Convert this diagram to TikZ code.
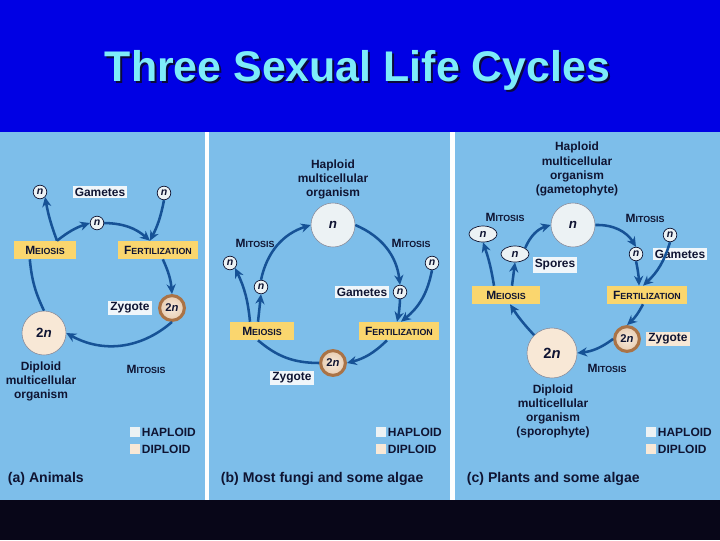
\documentclass[tikz,border=0pt]{standalone}
\usepackage{fontspec}
\setmainfont{Liberation Sans}
\usetikzlibrary{positioning,arrows.meta,shapes.geometric}
\definecolor{titlebg}{RGB}{0,0,228}
\definecolor{titletxt}{RGB}{125,236,250}
\definecolor{shadow}{RGB}{10,10,60}
\definecolor{panel}{RGB}{125,190,234}
\definecolor{footer}{RGB}{8,6,24}
\definecolor{ink}{RGB}{15,20,50}
\definecolor{arr}{RGB}{22,82,150}
\definecolor{ybox}{RGB}{250,214,110}
\definecolor{wbox}{RGB}{240,246,250}
\definecolor{hap}{RGB}{236,242,244}
\definecolor{dip}{RGB}{248,232,214}
\definecolor{zygin}{RGB}{242,220,196}
\definecolor{zygout}{RGB}{170,115,70}
\newcommand{\smcap}[2]{#1{\fontsize{6.3}{7}\selectfont #2}}

\begin{document}
\begin{tikzpicture}[
  x=0.025cm, y=0.025cm,
  every node/.style={font=\fontsize{8.5}{10}\selectfont\bfseries,text=ink},
  txt/.style={align=center,inner sep=1pt},
  hapc/.style={circle,fill=hap,draw=ink!50,line width=0.4pt,minimum size=1.1cm,inner sep=0pt,
    font=\fontsize{9.5}{10}\selectfont\bfseries},
  dipc/.style={hapc,fill=dip},
  nsm/.style={circle,fill=hap,draw=ink,line width=0.5pt,minimum size=0.34cm,inner sep=0pt,
    font=\fontsize{7.5}{8}\selectfont\bfseries},
  nell/.style={ellipse,fill=hap,draw=ink,line width=0.5pt,minimum width=0.7cm,minimum height=0.4cm,
    inner sep=0pt,font=\fontsize{8}{8}\selectfont\bfseries},
  zyg/.style={circle,draw=zygout,line width=2.2pt,inner color=white!40!zygin,outer color=zygin!85!zygout,
    minimum size=0.62cm,inner sep=0pt,font=\fontsize{8}{8}\selectfont\bfseries},
  yb/.style={fill=ybox,minimum height=0.45cm,inner sep=3pt},
  wb/.style={fill=wbox,inner sep=1.5pt},
  key/.style={minimum size=0.25cm,inner sep=0pt},
  sig/.style={-{Stealth[length=7pt,width=6.5pt]},line width=1.8pt,draw=arr},
  lnk/.style={line width=1.8pt,draw=arr},
]
\useasboundingbox (0,0) rectangle (720,-540);
% background bands
\fill[titlebg] (0,0) rectangle (720,-132);
\fill[panel] (0,-132) rectangle (720,-500);
\fill[footer] (0,-500) rectangle (720,-540);
\fill[white] (205,-132) rectangle (209,-500);
\fill[white] (450,-132) rectangle (455,-500);
% title
\node[font=\fontsize{30.5}{32}\selectfont\bfseries,text=shadow] (titleshadow) at (359.5,-72) {Three Sexual Life Cycles};
\node[font=\fontsize{30.5}{32}\selectfont\bfseries,text=titletxt] (title) at (357.5,-70) {Three Sexual Life Cycles};

% (a) animals
\node[nsm] (na1) at (40,-192) {\textit{n}};
\node[nsm] (na2) at (97,-223) {\textit{n}};
\node[nsm] (na3) at (164,-193) {\textit{n}};
\node[wb] (gam_a) at (100,-192) {Gametes};
\node[yb,minimum width=1.55cm] (mei_a) at (45,-250) {\smcap{M}{EIOSIS}};
\node[yb,minimum width=2cm] (fer_a) at (158,-250) {\smcap{F}{ERTILIZATION}};
\node[zyg] (zyg_a) at (172,-308) {2\textit{n}};
\node[wb] (zlab_a) at (130,-308) {Zygote};
\node[dipc] (dip_a) at (44,-333) {2\textit{n}};
\node[txt] (diptxt_a) at (41,-381) {Diploid\\multicellular\\organism};
\node[txt] (mit_a) at (146,-369) {\smcap{M}{ITOSIS}};
\draw[lnk] (dip_a.north) to[bend left=10] ([xshift=-0.38cm]mei_a.south);
\draw[sig] ([xshift=0.3cm]mei_a.north) to[bend left=5] (na1.south east);
\draw[sig] ([xshift=0.3cm]mei_a.north) to[bend left=10] (na2.west);
\draw[sig] (na2.east) to[bend left=20] ([xshift=-0.2cm]fer_a.north);
\draw[sig] (na3.south) to[bend left=8] ([xshift=-0.2cm]fer_a.north);
\draw[sig] ([xshift=0.12cm]fer_a.south) to[bend left=10] (zyg_a.north);
\draw[sig] (zyg_a.south) to[bend left=35] (dip_a.east);
% legend (a)
\node[key,fill=hap] (kh_a) at (135,-432) {};
\node[key,fill=dip] (kd_a) at (135,-449) {};
\node[right=1pt of kh_a,inner sep=0pt] (lh_a) {HAPLOID};
\node[right=1pt of kd_a,inner sep=0pt] (ld_a) {DIPLOID};
\node[anchor=west,font=\fontsize{10}{12}\selectfont\bfseries] (cap_a) at (3,-479) {(a) Animals};

% (b) fungi
\node[txt] (haptxt_b) at (333,-179) {Haploid\\multicellular\\organism};
\node[hapc] (hap_b) at (333,-225) {\textit{n}};
\node[txt] (mitl_b) at (255,-243) {\smcap{M}{ITOSIS}};
\node[txt] (mitr_b) at (411,-243) {\smcap{M}{ITOSIS}};
\node[nsm] (nb1) at (230,-263) {\textit{n}};
\node[nsm] (nb2) at (261,-287) {\textit{n}};
\node[nsm] (nb3) at (400,-292) {\textit{n}};
\node[nsm] (nb4) at (432,-263) {\textit{n}};
\node[wb] (gam_b) at (362,-292) {Gametes};
\node[yb,minimum width=1.6cm] (mei_b) at (262,-331) {\smcap{M}{EIOSIS}};
\node[yb,minimum width=2cm] (fer_b) at (399,-331) {\smcap{F}{ERTILIZATION}};
\node[zyg] (zyg_b) at (333,-363) {2\textit{n}};
\node[wb] (zlab_b) at (292,-378) {Zygote};
\draw[sig] (hap_b.east) to[bend left=30] (nb3.north);
\draw[sig] (nb4.south) to[bend left=20] ([xshift=0.05cm]fer_b.north);
\draw[sig] (nb3.south) to[bend left=5] ([xshift=-0.05cm]fer_b.north);
\draw[sig] ([xshift=-0.3cm]fer_b.south) to[bend left=15] (zyg_b.east);
\draw[lnk] (zyg_b.west) to[bend left=20] ([xshift=-0.1cm]mei_b.south);
\draw[sig] ([xshift=-0.3cm]mei_b.north) to[bend right=10] (nb1.south east);
\draw[sig] ([xshift=-0.1cm]mei_b.north) to (nb2.south);
\draw[sig] (nb2.north) to[bend left=30] (hap_b.west);
% legend (b)
\node[key,fill=hap] (kh_b) at (381,-432) {};
\node[key,fill=dip] (kd_b) at (381,-449) {};
\node[right=1pt of kh_b,inner sep=0pt] (lh_b) {HAPLOID};
\node[right=1pt of kd_b,inner sep=0pt] (ld_b) {DIPLOID};
\node[anchor=west,font=\fontsize{10}{12}\selectfont\bfseries] (cap_b) at (216,-479) {(b) Most fungi and some algae};

% (c) plants
\node[txt] (haptxt_c) at (577,-169) {Haploid\\multicellular\\organism\\(gametophyte)};
\node[hapc] (hap_c) at (573,-225) {\textit{n}};
\node[txt] (mitl_c) at (505,-217) {\smcap{M}{ITOSIS}};
\node[txt] (mitr_c) at (645,-218) {\smcap{M}{ITOSIS}};
\node[nell] (ec1) at (483,-234) {\textit{n}};
\node[nell] (ec2) at (515,-254) {\textit{n}};
\node[wb] (spo_c) at (555,-265) {Spores};
\node[nsm] (nc1) at (636,-254) {\textit{n}};
\node[nsm] (nc2) at (670,-235) {\textit{n}};
\node[wb] (gam_c) at (680,-254) {Gametes};
\node[yb,minimum width=1.7cm] (mei_c) at (506,-295) {\smcap{M}{EIOSIS}};
\node[yb,minimum width=2cm] (fer_c) at (647,-295) {\smcap{F}{ERTILIZATION}};
\node[zyg] (zyg_c) at (627,-339) {2\textit{n}};
\node[wb,fill=dip] (zlab_c) at (668,-339) {Zygote};
\node[dipc,minimum size=1.25cm,font=\fontsize{10.5}{11}\selectfont\bfseries] (dip_c) at (552,-353) {2\textit{n}};
\node[txt] (mit_c) at (607,-368) {\smcap{M}{ITOSIS}};
\node[txt] (diptxt_c) at (553,-411) {Diploid\\multicellular\\organism\\(sporophyte)};
\draw[sig] (hap_c.east) to[bend left=30] (nc1.north);
\draw[sig] (nc2.south) to[bend left=15] ([xshift=-0.1cm]fer_c.north);
\draw[sig] (nc1.south) to[bend left=5] ([xshift=-0.2cm]fer_c.north);
\draw[sig] ([xshift=-0.1cm]fer_c.south) to[bend left=10] (zyg_c.north);
\draw[sig] (zyg_c.west) to[bend left=15] (dip_c.east);
\draw[sig] (dip_c.north west) to[bend left=5] ([xshift=0.1cm]mei_c.south);
\draw[sig] ([xshift=-0.3cm]mei_c.north) to[bend right=5] (ec1.south);
\draw[sig] ([xshift=0.15cm]mei_c.north) to (ec2.south);
\draw[sig] (ec2.north east) to[bend left=25] (hap_c.west);
% legend (c)
\node[key,fill=hap] (kh_c) at (651,-432) {};
\node[key,fill=dip] (kd_c) at (651,-449) {};
\node[right=1pt of kh_c,inner sep=0pt] (lh_c) {HAPLOID};
\node[right=1pt of kd_c,inner sep=0pt] (ld_c) {DIPLOID};
\node[anchor=west,font=\fontsize{10}{12}\selectfont\bfseries] (cap_c) at (462,-479) {(c) Plants and some algae};
\end{tikzpicture}
\end{document}
